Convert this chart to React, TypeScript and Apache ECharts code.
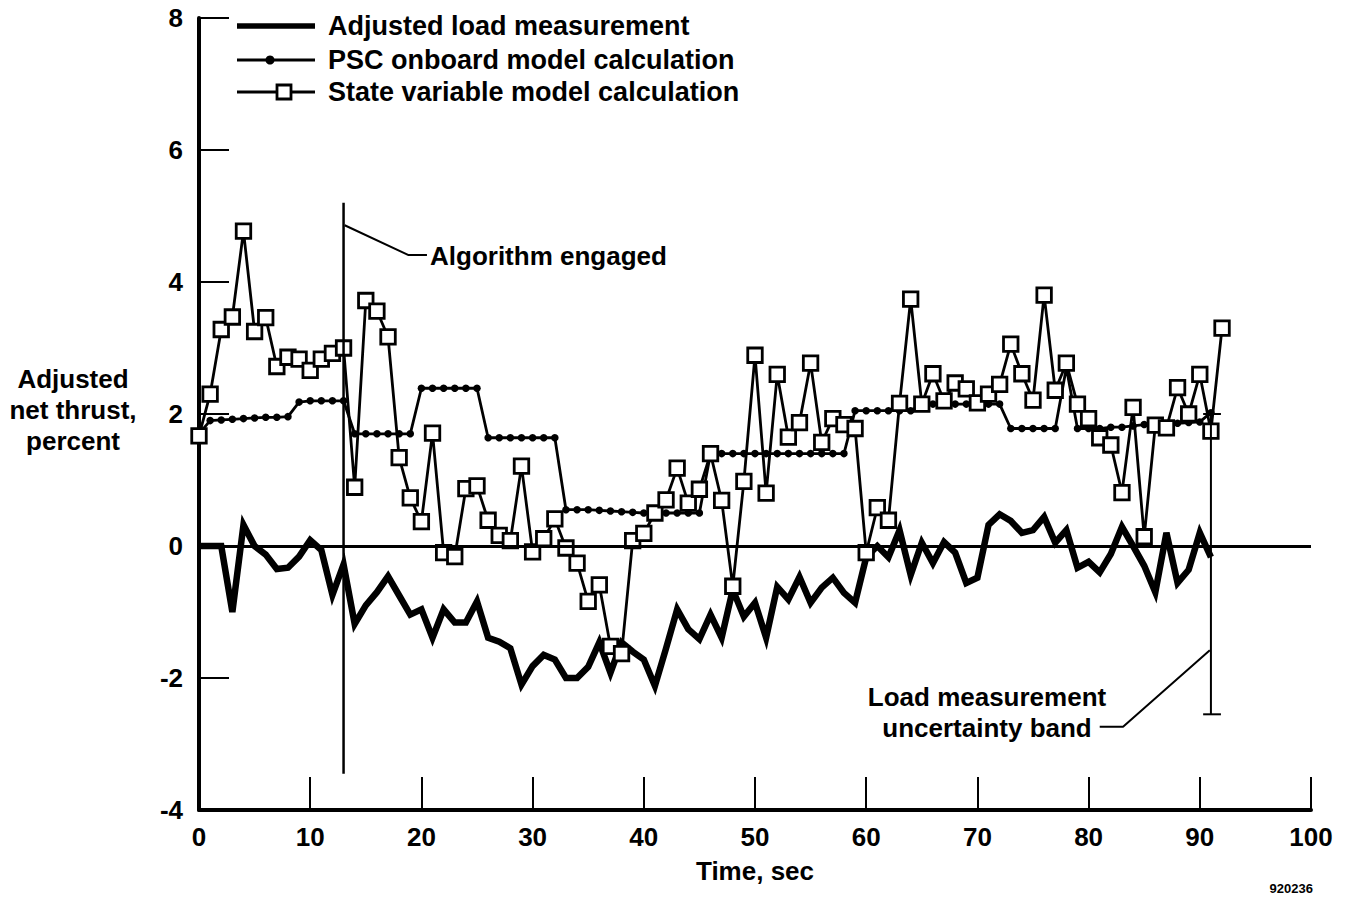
import React, { useEffect, useRef } from "react";
import * as echarts from "echarts";

const FONT = '"Liberation Sans", Arial, Helvetica, sans-serif';

// Adjusted load measurement, percent (t = 0..91 s)
const loadValues = [
  0, 0, 0, -1.0, 0.32, 0.0, -0.13, -0.35, -0.33, -0.16, 0.09, -0.06, -0.74, -0.28,
  -1.18, -0.9, -0.7, -0.46, -0.75, -1.04, -0.96, -1.39, -0.96, -1.16, -1.16, -0.84, -1.39, -1.45, -1.55, -2.1,
  -1.82, -1.65, -1.72, -2.0, -2.0, -1.83, -1.46, -1.92, -1.46, -1.6,
  -1.72, -2.12, -1.55, -0.96, -1.26, -1.41, -1.04, -1.39, -0.66, -1.07,
  -0.86, -1.39, -0.62, -0.81, -0.47, -0.86, -0.63, -0.48, -0.71, -0.86,
  -0.17, 0.0, -0.17, 0.24, -0.44, 0.05, -0.26, 0.06, -0.1, -0.56,
  -0.48, 0.32, 0.48, 0.38, 0.2, 0.24, 0.44, 0.05, 0.24, -0.33,
  -0.24, -0.4, -0.12, 0.29, 0.0, -0.3, -0.7, 0.2, -0.56, -0.36,
  0.2, -0.17,
];

// PSC onboard model calculation (t = 0..91 s)
const pscValues = [
  1.7, 1.9, 1.91, 1.92, 1.93, 1.94, 1.95, 1.95, 1.96, 2.18, 2.2, 2.2, 2.2, 2.2,
  1.7, 1.7, 1.7, 1.7, 1.7, 1.7,
  2.39, 2.39, 2.39, 2.39, 2.39, 2.39,
  1.64, 1.64, 1.64, 1.64, 1.64, 1.64, 1.64,
  0.55, 0.55, 0.55, 0.54, 0.53, 0.52, 0.51, 0.5, 0.5, 0.5, 0.5, 0.5, 0.5,
  1.4, 1.4, 1.4, 1.4, 1.4, 1.4, 1.4, 1.4, 1.4, 1.4, 1.4, 1.4, 1.4,
  2.05, 2.05, 2.05, 2.05, 2.05, 2.05,
  2.15, 2.15, 2.15, 2.15, 2.15, 2.15, 2.15, 2.15,
  1.78, 1.78, 1.78, 1.78, 1.78,
  2.7,
  1.78, 1.78, 1.78, 1.8, 1.8, 1.82, 1.84, 1.85, 1.85, 1.86, 1.87, 1.88,
  2.02,
];

// State variable model calculation (t = 0..92 s)
const stateValues = [
  1.67, 2.3, 3.28, 3.47, 4.77, 3.25, 3.46, 2.72, 2.86, 2.83, 2.66, 2.83, 2.92, 3.0,
  0.89, 3.72, 3.56, 3.17, 1.34, 0.73, 0.37, 1.71, -0.1, -0.16, 0.87, 0.91, 0.39, 0.16, 0.08, 1.21,
  -0.09, 0.11, 0.41, -0.03, -0.26, -0.84, -0.59, -1.52, -1.63, 0.08,
  0.19, 0.5, 0.7, 1.18, 0.65, 0.86, 1.4, 0.69, -0.61, 0.98,
  2.89, 0.8, 2.6, 1.65, 1.87, 2.77, 1.57, 1.93, 1.84, 1.78,
  -0.1, 0.58, 0.39, 2.16, 3.74, 2.15, 2.61, 2.2, 2.47, 2.38,
  2.17, 2.3, 2.45, 3.06, 2.61, 2.21, 3.8, 2.36, 2.77, 2.15,
  1.93, 1.64, 1.53, 0.81, 2.1, 0.14, 1.83, 1.79, 2.4, 2.0,
  2.6, 1.74, 3.3,
];

const seriesNames = [
  "Adjusted load measurement",
  "PSC onboard model calculation",
  "State variable model calculation",
];

// Annotation geometry in data coordinates (time, percent)
const engagedLine = [[13, 5.2], [13, -3.45]];
const engagedLeader = [[13.1, 4.86], [18.8, 4.41], [20.5, 4.41]];
const bandLine = [[91, 2.0], [91, -2.55]];
const bandTopCap = [[90.3, 2.0], [91.9, 2.0]];
const bandBottomCap = [[90.3, -2.55], [91.9, -2.55]];
const bandLeader = [[90.9, -1.58], [83.1, -2.74], [81.0, -2.74]];

const toPairs = (vals: number[]) => vals.map((v, i) => [i, v]);

const txt = (size: number, weight = "bold") => ({
  color: "#000",
  fontFamily: FONT,
  fontWeight: weight as any,
  fontSize: size,
});

const annoSeries = (data: number[][], width: number) => ({
  type: "line",
  data,
  symbol: "none",
  silent: true,
  z: 5,
  lineStyle: { color: "#000", width, type: "solid" },
});

export default function App() {
  const ref = useRef<HTMLDivElement>(null);
  useEffect(() => {
    const chart = echarts.init(ref.current!, null, { renderer: "svg" });
    const option: any = {
      animation: false,
      backgroundColor: "#fff",
      grid: { left: 199, right: 40, top: 18, bottom: 88, outerBoundsMode: "none" },
      xAxis: {
        type: "value",
        min: 0,
        max: 100,
        interval: 10,
        axisLine: { show: true, onZero: false, lineStyle: { color: "#000", width: 4 } },
        axisTick: { show: true, inside: true, length: 33, lineStyle: { color: "#000", width: 2 } },
        axisLabel: { ...txt(26), margin: 14 },
        splitLine: { show: false },
        name: "Time, sec",
        nameLocation: "middle",
        nameGap: 48,
        nameTextStyle: txt(26),
      },
      yAxis: {
        type: "value",
        min: -4,
        max: 8,
        interval: 2,
        axisLine: { show: true, onZero: false, lineStyle: { color: "#000", width: 4 } },
        axisTick: { show: true, inside: true, length: 30, lineStyle: { color: "#000", width: 2 } },
        axisLabel: { ...txt(26), margin: 16 },
        splitLine: { show: false },
      },
      series: [
        {
          name: seriesNames[0],
          type: "line",
          data: toPairs(loadValues),
          symbol: "none",
          z: 2,
          lineStyle: { color: "#000", width: 6.5, join: "miter" },
          markLine: {
            silent: true,
            symbol: ["none", "none"],
            label: { show: false },
            lineStyle: { color: "#000", width: 3, type: "solid" },
            data: [{ yAxis: 0 }],
          },
        },
        {
          name: seriesNames[1],
          type: "line",
          data: toPairs(pscValues),
          symbol: "circle",
          symbolSize: 7.5,
          showAllSymbol: true,
          z: 3,
          itemStyle: { color: "#000" },
          lineStyle: { color: "#000", width: 2.8 },
        },
        {
          name: seriesNames[2],
          type: "line",
          data: toPairs(stateValues),
          symbol: "rect",
          symbolSize: 14.5,
          showAllSymbol: true,
          z: 4,
          itemStyle: { color: "#fff", borderColor: "#000", borderWidth: 2.8 },
          lineStyle: { color: "#000", width: 2.8 },
        },
        annoSeries(engagedLine, 2.5),
        annoSeries(engagedLeader, 2),
        annoSeries(bandLine, 2),
        annoSeries(bandTopCap, 2),
        annoSeries(bandBottomCap, 2),
        annoSeries(bandLeader, 2),
      ],
      graphic: [
        // legend
        { type: "line", shape: { x1: 237, y1: 26, x2: 315, y2: 26 }, style: { stroke: "#000", lineWidth: 5.5 } },
        { type: "line", shape: { x1: 237, y1: 60, x2: 315, y2: 60 }, style: { stroke: "#000", lineWidth: 2.8 } },
        { type: "circle", shape: { cx: 270, cy: 60, r: 4.5 }, style: { fill: "#000" } },
        { type: "line", shape: { x1: 237, y1: 92, x2: 315, y2: 92 }, style: { stroke: "#000", lineWidth: 2.8 } },
        { type: "rect", shape: { x: 277, y: 85, width: 14, height: 14 }, style: { fill: "#fff", stroke: "#000", lineWidth: 2.8 } },
        ...seriesNames.map((n, i) => ({
          type: "text",
          x: 328,
          y: [26, 60, 92][i],
          style: {
            text: n,
            font: `bold 27px ${FONT}`,
            fill: "#000",
            textVerticalAlign: "middle",
            verticalAlign: "middle",
          },
        })),
        {
          type: "text",
          x: 73,
          y: 410,
          style: {
            text: "Adjusted\nnet thrust,\npercent",
            font: `bold 26px ${FONT}`,
            fill: "#000",
            lineHeight: 31,
            textAlign: "center",
            align: "center",
            textVerticalAlign: "middle",
            verticalAlign: "middle",
          },
        },
        {
          type: "text",
          x: 430,
          y: 256,
          style: {
            text: "Algorithm engaged",
            font: `bold 26px ${FONT}`,
            fill: "#000",
            textVerticalAlign: "middle",
            verticalAlign: "middle",
          },
        },
        {
          type: "text",
          x: 987,
          y: 712,
          style: {
            text: "Load measurement\nuncertainty band",
            font: `bold 26px ${FONT}`,
            fill: "#000",
            lineHeight: 31,
            textAlign: "center",
            align: "center",
            textVerticalAlign: "middle",
            verticalAlign: "middle",
          },
        },
        {
          type: "text",
          x: 1313,
          y: 888,
          style: {
            text: "920236",
            font: `bold 13px ${FONT}`,
            fill: "#000",
            textAlign: "right",
            align: "right",
            textVerticalAlign: "middle",
            verticalAlign: "middle",
          },
        },
      ],
    };
    chart.setOption(option);
    return () => chart.dispose();
  }, []);
  return (
    <div
      ref={ref}
      style={{ position: "fixed", left: 0, top: 0, width: 1351, height: 898, background: "#fff" }}
    />
  );
}
